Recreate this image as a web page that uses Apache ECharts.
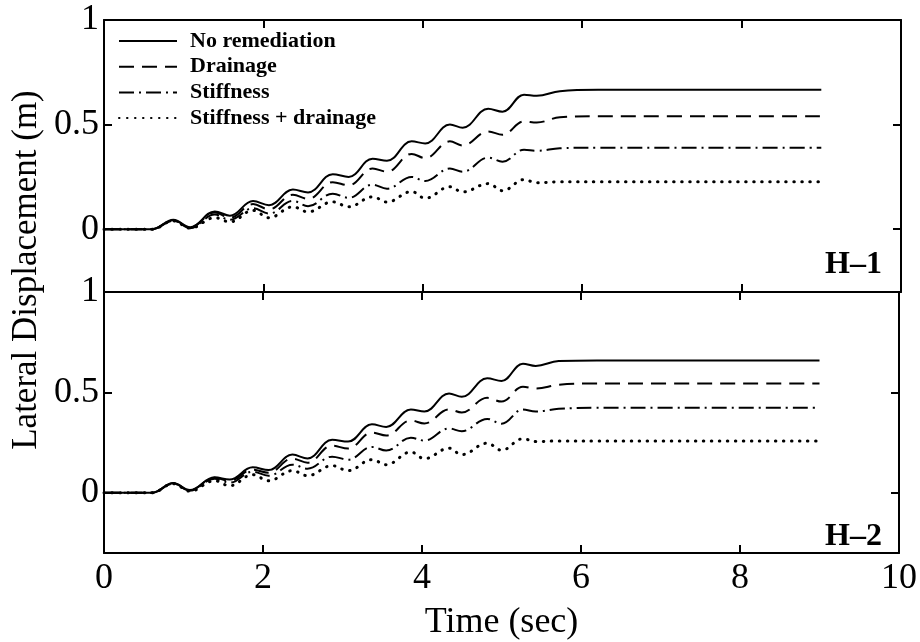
<!DOCTYPE html>
<html>
<head>
<meta charset="utf-8">
<script src="https://cdn.jsdelivr.net/npm/echarts@6/dist/echarts.min.js"></script>
<style>
    html, body { margin: 0; padding: 0; background: #fff; }
    #chart { width: 920px; height: 642px; }
</style>
</head>
<body>
<div id="chart"></div>
<script>
/* data */
const time = [0, 0.6, 0.87, 1.08, 1.39, 1.58, 1.87, 2.07, 2.37, 2.56, 2.87, 3.07, 3.37, 3.55, 3.86, 4.03, 4.34, 4.5, 4.82, 5.0, 5.27, 5.43, 5.72, 6.2, 9];

const h1NoRemediation = [0, 0, 0.045, 0.01, 0.085, 0.065, 0.135, 0.115, 0.19, 0.176, 0.263, 0.25, 0.337, 0.327, 0.42, 0.41, 0.5, 0.485, 0.576, 0.562, 0.643, 0.638, 0.66, 0.667, 0.667];
const h1Drainage = [0, 0, 0.043, 0.008, 0.08, 0.055, 0.12, 0.095, 0.165, 0.145, 0.225, 0.21, 0.29, 0.275, 0.36, 0.34, 0.42, 0.4, 0.467, 0.452, 0.515, 0.51, 0.535, 0.54, 0.54];
const h1Stiffness = [0, 0, 0.04, 0.005, 0.07, 0.045, 0.1, 0.075, 0.135, 0.11, 0.17, 0.15, 0.213, 0.194, 0.25, 0.23, 0.29, 0.275, 0.342, 0.323, 0.38, 0.375, 0.387, 0.39, 0.39];
const h1Both = [0, 0, 0.04, 0.005, 0.055, 0.035, 0.09, 0.055, 0.107, 0.083, 0.131, 0.107, 0.155, 0.13, 0.18, 0.148, 0.203, 0.178, 0.218, 0.184, 0.237, 0.222, 0.227, 0.227, 0.227];

const h2NoRemediation = [0, 0, 0.049, 0.014, 0.077, 0.066, 0.127, 0.113, 0.19, 0.171, 0.264, 0.255, 0.341, 0.328, 0.415, 0.405, 0.495, 0.478, 0.57, 0.557, 0.643, 0.632, 0.656, 0.659, 0.659];
const h2Drainage = [0, 0, 0.047, 0.012, 0.075, 0.06, 0.115, 0.1, 0.17, 0.15, 0.235, 0.22, 0.3, 0.285, 0.36, 0.345, 0.415, 0.4, 0.473, 0.454, 0.528, 0.519, 0.538, 0.544, 0.544];
const h2Stiffness = [0, 0, 0.045, 0.01, 0.07, 0.05, 0.105, 0.085, 0.14, 0.12, 0.18, 0.165, 0.228, 0.21, 0.274, 0.26, 0.32, 0.307, 0.368, 0.344, 0.415, 0.405, 0.418, 0.423, 0.423];
const h2Both = [0, 0, 0.045, 0.008, 0.06, 0.035, 0.09, 0.06, 0.11, 0.085, 0.135, 0.11, 0.165, 0.14, 0.203, 0.17, 0.222, 0.19, 0.247, 0.212, 0.269, 0.255, 0.258, 0.258, 0.258];

const seriesNames = ['No remediation', 'Drainage', 'Stiffness', 'Stiffness + drainage'];
const yTickValues = [0, 0.5, 1];
const panelNames = ['H\u20131', 'H\u20132'];

const FONT = '"Liberation Serif", "Times New Roman", serif';
const lineTypes = [
    { type: 'solid', width: 2 },
    { type: [15, 8], width: 2 },
    { type: [15, 5, 2, 5], width: 2 },
    { type: [0.5, 7.5], width: 3, cap: 'round' },
];

function pairs(ys) {
    return time.map((t, i) => [t, ys[i]]);
}

function xAxis(grid, position, showLabels) {
    return {
        type: 'value', gridIndex: grid, position: position,
        min: 0, max: 10, interval: 2,
        axisLine: { show: true, onZero: false, lineStyle: { color: '#000', width: 2 } },
        axisTick: { show: true, inside: true, length: 8, lineStyle: { color: '#000', width: 2 } },
        axisLabel: { show: showLabels, color: '#000', fontFamily: FONT, fontSize: 36, margin: 8 },
        splitLine: { show: false },
        name: showLabels ? 'Time (sec)' : '',
        nameLocation: 'middle', nameGap: 52,
        nameTextStyle: { color: '#000', fontFamily: FONT, fontSize: 36 },
    };
}

function yAxis(grid, position, showLabels) {
    return {
        type: 'value', gridIndex: grid, position: position,
        min: -0.3, max: 1,
        axisLine: { show: true, onZero: false, lineStyle: { color: '#000', width: 2 } },
        axisTick: { show: true, inside: true, length: 8, customValues: yTickValues, lineStyle: { color: '#000', width: 2 } },
        axisLabel: { show: showLabels, customValues: yTickValues, color: '#000', fontFamily: FONT, fontSize: 36, margin: 5 },
        splitLine: { show: false },
    };
}

const panels = [
    [h1NoRemediation, h1Drainage, h1Stiffness, h1Both],
    [h2NoRemediation, h2Drainage, h2Stiffness, h2Both],
];

const series = [];
panels.forEach((panel, p) => {
    panel.forEach((ys, i) => {
        series.push({
            name: seriesNames[i],
            type: 'line',
            xAxisIndex: p * 2, yAxisIndex: p * 2,
            data: pairs(ys),
            symbol: 'none',
            smooth: 0.4,
            silent: true,
            lineStyle: Object.assign({ color: '#000' }, lineTypes[i]),
            itemStyle: { color: '#000' },
        });
    });
});

const chart = echarts.init(document.getElementById('chart'), null, { renderer: 'canvas' });
chart.setOption({
    animation: false,
    backgroundColor: '#fff',
    grid: [
        { left: 104, top: 20, width: 797, height: 272 },
        { left: 104, top: 292, width: 797, height: 272 },
    ],
    xAxis: [
        xAxis(0, 'bottom', false),
        xAxis(0, 'top', false),
        xAxis(1, 'bottom', true),
        xAxis(1, 'top', false),
    ],
    yAxis: [
        yAxis(0, 'left', true),
        yAxis(0, 'right', false),
        yAxis(1, 'left', true),
        yAxis(1, 'right', false),
    ],
    legend: {
        data: seriesNames,
        orient: 'vertical',
        left: 118, top: 30, padding: 0,
        itemWidth: 58, itemHeight: 20, itemGap: 3.7,
        selectedMode: false,
        itemStyle: { opacity: 0 },
        textStyle: { color: '#000', fontFamily: FONT, fontSize: 22, lineHeight: 20, fontWeight: 'bold', padding: [0, 0, 0, 8] },
    },
    graphic: [
        {
            type: 'text', x: 27, y: 270, rotation: Math.PI / 2,
            style: { text: 'Lateral Displacement (m)', font: '35px ' + FONT, fill: '#000', textAlign: 'center', textVerticalAlign: 'middle' },
        },
        {
            type: 'text', x: 882, y: 265,
            style: { text: panelNames[0], font: 'bold 32px ' + FONT, fill: '#000', textAlign: 'right', textVerticalAlign: 'middle' },
        },
        {
            type: 'text', x: 882, y: 537,
            style: { text: panelNames[1], font: 'bold 32px ' + FONT, fill: '#000', textAlign: 'right', textVerticalAlign: 'middle' },
        },
    ],
    series: series,
});
</script>
</body>
</html>
